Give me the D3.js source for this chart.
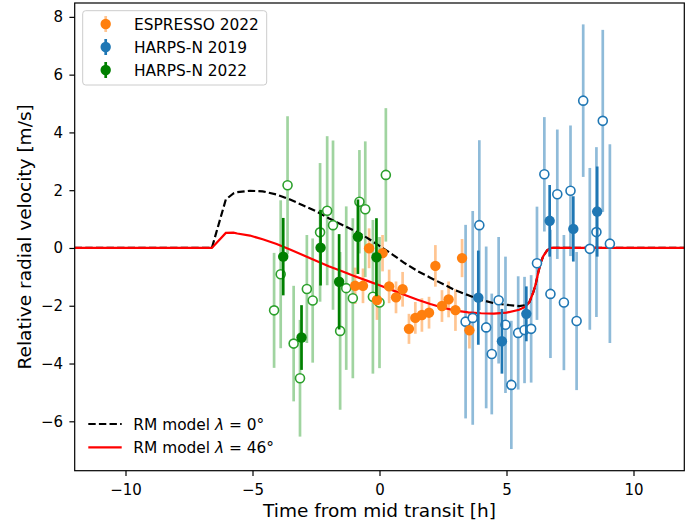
<!DOCTYPE html>
<html>
<head>
<meta charset="utf-8">
<script src="https://cdn.jsdelivr.net/npm/d3@7"></script>
<style>
    body { margin: 0; background: #fff; }
    svg text { font-family: 'DejaVu Sans', sans-serif; fill: #000; }
    .tick text { font-size: 15px; }
    .tick line { stroke: #000; stroke-width: 1.2; }
    .legend text { font-size: 15.4px; }
    .axis-label { font-size: 18.5px; }
</style>
</head>
<body>
<div class="rm-chart"></div>
<script>
// axis ticks
const xTicks = [-10, -5, 0, 5, 10];
const yTicks = [-6, -4, -2, 0, 2, 4, 6, 8];

// ESPRESSO 2022
const espressoTime = [-0.96, -0.65, -0.41, -0.10, 0.12, 0.38, 0.65, 0.91, 1.16, 1.41, 1.67, 1.95, 2.20, 2.46, 2.72, 2.99, 3.25, 3.54];
const espressoRv = [-1.31, -1.31, -0.01, -1.80, -0.18, -1.33, -1.71, -1.43, -2.80, -2.42, -2.32, -2.24, -0.62, -2.01, -1.78, -2.15, -0.35, -2.85];
const espressoErr = [0.63, 0.60, 0.69, 0.69, 0.63, 0.58, 0.55, 0.60, 0.52, 0.55, 0.58, 0.55, 0.72, 0.55, 0.62, 0.72, 0.66, 0.63];

// HARPS-N 2019, single exposures
const harps19Time = [3.39, 3.67, 3.93, 4.20, 4.42, 4.69, 4.96, 5.19, 5.46, 5.71, 5.97, 6.20, 6.49, 6.73, 7.00, 7.26, 7.52, 7.76, 8.02, 8.28, 8.54, 8.79, 9.07];
const harps19Rv = [-2.55, -2.42, 0.79, -2.75, -3.67, -1.81, -2.66, -4.74, -2.94, -2.84, -2.80, -0.53, 2.55, -1.59, 1.86, -1.89, 1.98, -2.53, 5.10, -0.03, 0.55, 4.40, 0.15];
const harps19Err = [3.35, 3.70, 2.94, 2.80, 2.09, 2.19, 2.36, 2.22, 1.96, 1.84, 1.86, 1.96, 1.98, 2.22, 2.24, 2.34, 2.26, 2.39, 2.64, 2.80, 2.94, 3.15, 3.44];

// HARPS-N 2019, binned
const harps19BinTime = [3.89, 4.82, 5.78, 6.70, 7.63, 8.57];
const harps19BinRv = [-1.72, -3.23, -2.28, 0.94, 0.66, 1.26];
const harps19BinErr = [1.63, 1.12, 0.95, 1.24, 1.13, 1.56];

// HARPS-N 2022, single exposures
const harps22Time = [-4.15, -3.89, -3.62, -3.38, -3.13, -2.86, -2.63, -2.34, -2.06, -1.83, -1.55, -1.31, -1.05, -0.79, -0.56, -0.26, 0.00, 0.25];
const harps22Rv = [-2.16, -0.91, 2.17, -3.31, -4.51, -1.42, -1.82, 0.54, 1.29, 0.79, -2.87, -1.39, -1.74, 1.60, 1.34, -1.69, -1.89, 2.53];
const harps22Err = [1.99, 2.56, 2.39, 2.00, 2.02, 1.87, 2.15, 2.40, 2.58, 2.93, 2.73, 2.83, 2.77, 1.79, 2.35, 2.66, 2.27, 2.31];

// HARPS-N 2022, binned
const harps22BinTime = [-3.79, -3.07, -2.32, -1.59, -0.85, -0.12];
const harps22BinRv = [-0.30, -3.10, 0.01, -1.17, 0.39, -0.32];
const harps22BinErr = [1.34, 1.12, 1.31, 1.65, 1.29, 1.35];

// RM models
const modelTime = [-12, -6.6, -6.05, -5.75, -5.6, -5.1, -4.6, -4.05, -3.5, -3.0, -2.5, -2.0, -1.5, -1.0, -0.5, 0, 0.5, 1.0, 1.5, 2.0, 2.5, 3.0, 3.5, 4.0, 4.5, 5.0, 5.5, 5.75, 5.9, 6.05, 6.15, 6.25, 6.35, 6.45, 6.6, 6.75, 12];
const modelAligned = [0, 0, 1.68, 1.89, 1.93, 1.98, 1.96, 1.85, 1.67, 1.47, 1.27, 1.03, 0.81, 0.60, 0.36, 0.07, -0.22, -0.53, -0.80, -1.03, -1.25, -1.47, -1.64, -1.80, -1.91, -1.97, -2.01, -1.98, -1.88, -1.55, -1.25, -0.85, -0.50, -0.28, -0.08, 0, 0];
const modelTilted = [0, 0, 0.52, 0.53, 0.50, 0.43, 0.30, 0.14, -0.06, -0.25, -0.44, -0.63, -0.80, -0.97, -1.13, -1.29, -1.46, -1.63, -1.79, -1.94, -2.07, -2.17, -2.23, -2.26, -2.27, -2.24, -2.14, -2.03, -1.88, -1.55, -1.25, -0.85, -0.50, -0.28, -0.08, 0, 0];

const xDomain = [-12, 12];
const yDomain = [-7.71, 8.48];

class RMChart {
    constructor() {
        this.container = document.querySelector('.rm-chart');

        this.margin = {
            top: 3,
            right: 11.7,
            bottom: 55.3,
            left: 74.7,
        };

        this.width = 696 - this.margin.left - this.margin.right;
        this.height = 526 - this.margin.top - this.margin.bottom;

        this.drawChart();
    }

    drawChart() {
        this.appendSVG();
        this.scaleX();
        this.scaleY();
        this.addXAxis();
        this.addYAxis();

        // faint error bars of single exposures first
        this.addErrorBars(harps22Time, harps22Rv, harps22Err, '#2ca02c', 0.45);
        this.addErrorBars(harps19Time, harps19Rv, harps19Err, '#1f77b4', 0.5);
        this.addErrorBars(espressoTime, espressoRv, espressoErr, '#ff7f0e', 0.45);

        this.addModelLine(modelAligned, '#000', '7.4,3.2');
        this.addModelLine(modelTilted, '#ff0000', null);

        this.addOpenDots(harps22Time, harps22Rv, '#2ca02c');
        this.addOpenDots(harps19Time, harps19Rv, '#1f77b4');
        this.addFilledDots(espressoTime, espressoRv, '#ff7f0e');

        this.addErrorBars(harps22BinTime, harps22BinRv, harps22BinErr, '#008000', 1);
        this.addFilledDots(harps22BinTime, harps22BinRv, '#008000');
        this.addErrorBars(harps19BinTime, harps19BinRv, harps19BinErr, '#1f77b4', 1);
        this.addFilledDots(harps19BinTime, harps19BinRv, '#1f77b4');

        this.addFrame();
        this.addXAxisLabel();
        this.addYAxisLabel();
        this.addDataLegend();
        this.addModelLegend();
    }

    appendSVG() {
        this.svg = d3.select(this.container)
            .append('svg')
            .attr('width', this.width + this.margin.left + this.margin.right)
            .attr('height', this.height + this.margin.top + this.margin.bottom)
            .append('g')
            .attr('transform', `translate(${this.margin.left}, ${this.margin.top})`);
    }

    scaleX() {
        this.x = d3.scaleLinear()
            .domain(xDomain)
            .range([0, this.width]);
    }

    scaleY() {
        this.y = d3.scaleLinear()
            .domain(yDomain)
            .range([this.height, 0]);
    }

    tickFormat(d) {
        return d < 0 ? `\u2212${Math.abs(d)}` : `${d}`;
    }

    addXAxis() {
        this.svg.append('g')
            .attr('class', 'x-axis')
            .attr('transform', `translate(0,${this.height})`)
            .call(d3.axisBottom(this.x)
                .tickValues(xTicks)
                .tickFormat(this.tickFormat)
                .tickSizeOuter(0)
                .tickSize(5.3)
                .tickPadding(8))
            .call((g) => g.select('.domain').remove());
    }

    addYAxis() {
        this.svg.append('g')
            .attr('class', 'y-axis')
            .call(d3.axisLeft(this.y)
                .tickValues(yTicks)
                .tickFormat(this.tickFormat)
                .tickSizeOuter(0)
                .tickSize(5.3)
                .tickPadding(6.4))
            .call((g) => g.select('.domain').remove());
    }

    addErrorBars(time, rv, err, colour, opacity) {
        const data = time.map((t, i) => ({ t, v: rv[i], e: err[i] }));
        this.svg.append('g')
            .selectAll('line')
            .data(data)
            .enter()
            .append('line')
            .attr('x1', (d) => this.x(d.t))
            .attr('x2', (d) => this.x(d.t))
            .attr('y1', (d) => this.y(d.v - d.e))
            .attr('y2', (d) => this.y(d.v + d.e))
            .style('stroke', colour)
            .style('stroke-opacity', opacity)
            .style('stroke-width', 2.7);
    }

    addModelLine(values, colour, dash) {
        const data = modelTime.map((t, i) => ({ t, v: values[i] }));
        const line = d3.line()
            .x((d) => this.x(d.t))
            .y((d) => this.y(d.v));

        this.svg.append('path')
            .datum(data)
            .attr('d', line)
            .style('fill', 'none')
            .style('stroke', colour)
            .style('stroke-width', 2.2)
            .style('stroke-dasharray', dash);
    }

    addOpenDots(time, rv, colour) {
        this.svg.append('g')
            .selectAll('circle')
            .data(time)
            .enter()
            .append('circle')
            .attr('cx', (d) => this.x(d))
            .attr('cy', (d, i) => this.y(rv[i]))
            .attr('r', 4.5)
            .style('fill', '#fff')
            .style('stroke', colour)
            .style('stroke-width', 1.6);
    }

    addFilledDots(time, rv, colour) {
        this.svg.append('g')
            .selectAll('circle')
            .data(time)
            .enter()
            .append('circle')
            .attr('cx', (d) => this.x(d))
            .attr('cy', (d, i) => this.y(rv[i]))
            .attr('r', 5.2)
            .style('fill', colour);
    }

    addFrame() {
        this.svg.append('rect')
            .attr('width', this.width)
            .attr('height', this.height)
            .style('fill', 'none')
            .style('stroke', '#000')
            .style('stroke-width', 1.2);
    }

    addXAxisLabel() {
        this.svg.append('text')
            .attr('class', 'axis-label')
            .attr('text-anchor', 'middle')
            .attr('transform', `translate(${this.width / 2}, ${this.height + 46.5})`)
            .text('Time from mid transit [h]');
    }

    addYAxisLabel() {
        this.svg.append('text')
            .attr('class', 'axis-label')
            .attr('text-anchor', 'middle')
            .attr('transform', `translate(${31.5 - this.margin.left}, ${this.height / 2}) rotate(-90)`)
            .text('Relative radial velocity [m/s]');
    }

    addDataLegend() {
        const entries = [
            { label: 'ESPRESSO 2022', colour: '#ff7f0e', bar: '#ff7f0e', barOpacity: 0.45 },
            { label: 'HARPS-N 2019', colour: '#1f77b4', bar: '#1f77b4', barOpacity: 1 },
            { label: 'HARPS-N 2022', colour: '#008000', bar: '#008000', barOpacity: 1 },
        ];
        const legend = this.svg.append('g')
            .attr('class', 'legend')
            .attr('transform', `translate(${82.7 - this.margin.left}, ${10.7 - this.margin.top})`);

        legend.append('rect')
            .attr('width', 184)
            .attr('height', 74.3)
            .attr('rx', 3)
            .style('fill', '#fff')
            .style('fill-opacity', 0.8)
            .style('stroke', '#cccccc')
            .style('stroke-width', 1);

        const row = legend.selectAll('.legend-row')
            .data(entries)
            .enter()
            .append('g')
            .attr('transform', (d, i) => `translate(0, ${13.3 + i * 23})`);

        row.append('line')
            .attr('x1', 23)
            .attr('x2', 23)
            .attr('y1', -8)
            .attr('y2', 8)
            .style('stroke', (d) => d.bar)
            .style('stroke-opacity', (d) => d.barOpacity)
            .style('stroke-width', 2.7);

        row.append('circle')
            .attr('cx', 23)
            .attr('r', 5.2)
            .style('fill', (d) => d.colour);

        row.append('text')
            .attr('x', 51.3)
            .attr('y', 5.6)
            .text((d) => d.label);
    }

    addModelLegend() {
        const entries = [
            { angle: '0°', colour: '#000', dash: '7.4,3.2' },
            { angle: '46°', colour: '#ff0000', dash: null },
        ];
        const legend = this.svg.append('g')
            .attr('class', 'legend')
            .attr('transform', `translate(${88.3 - this.margin.left}, ${424 - this.margin.top})`);

        const row = legend.selectAll('.legend-row')
            .data(entries)
            .enter()
            .append('g')
            .attr('transform', (d, i) => `translate(0, ${i * 23.3})`);

        row.append('line')
            .attr('x1', 0)
            .attr('x2', 33.4)
            .style('stroke', (d) => d.colour)
            .style('stroke-width', 2.2)
            .style('stroke-dasharray', (d) => d.dash);

        const label = row.append('text')
            .attr('x', 45)
            .attr('y', 5.6);
        label.append('tspan').text('RM model ');
        label.append('tspan').style('font-style', 'italic').text('λ');
        label.append('tspan').text((d) => ` = ${d.angle}`);
    }
}

new RMChart();
</script>
</body>
</html>
